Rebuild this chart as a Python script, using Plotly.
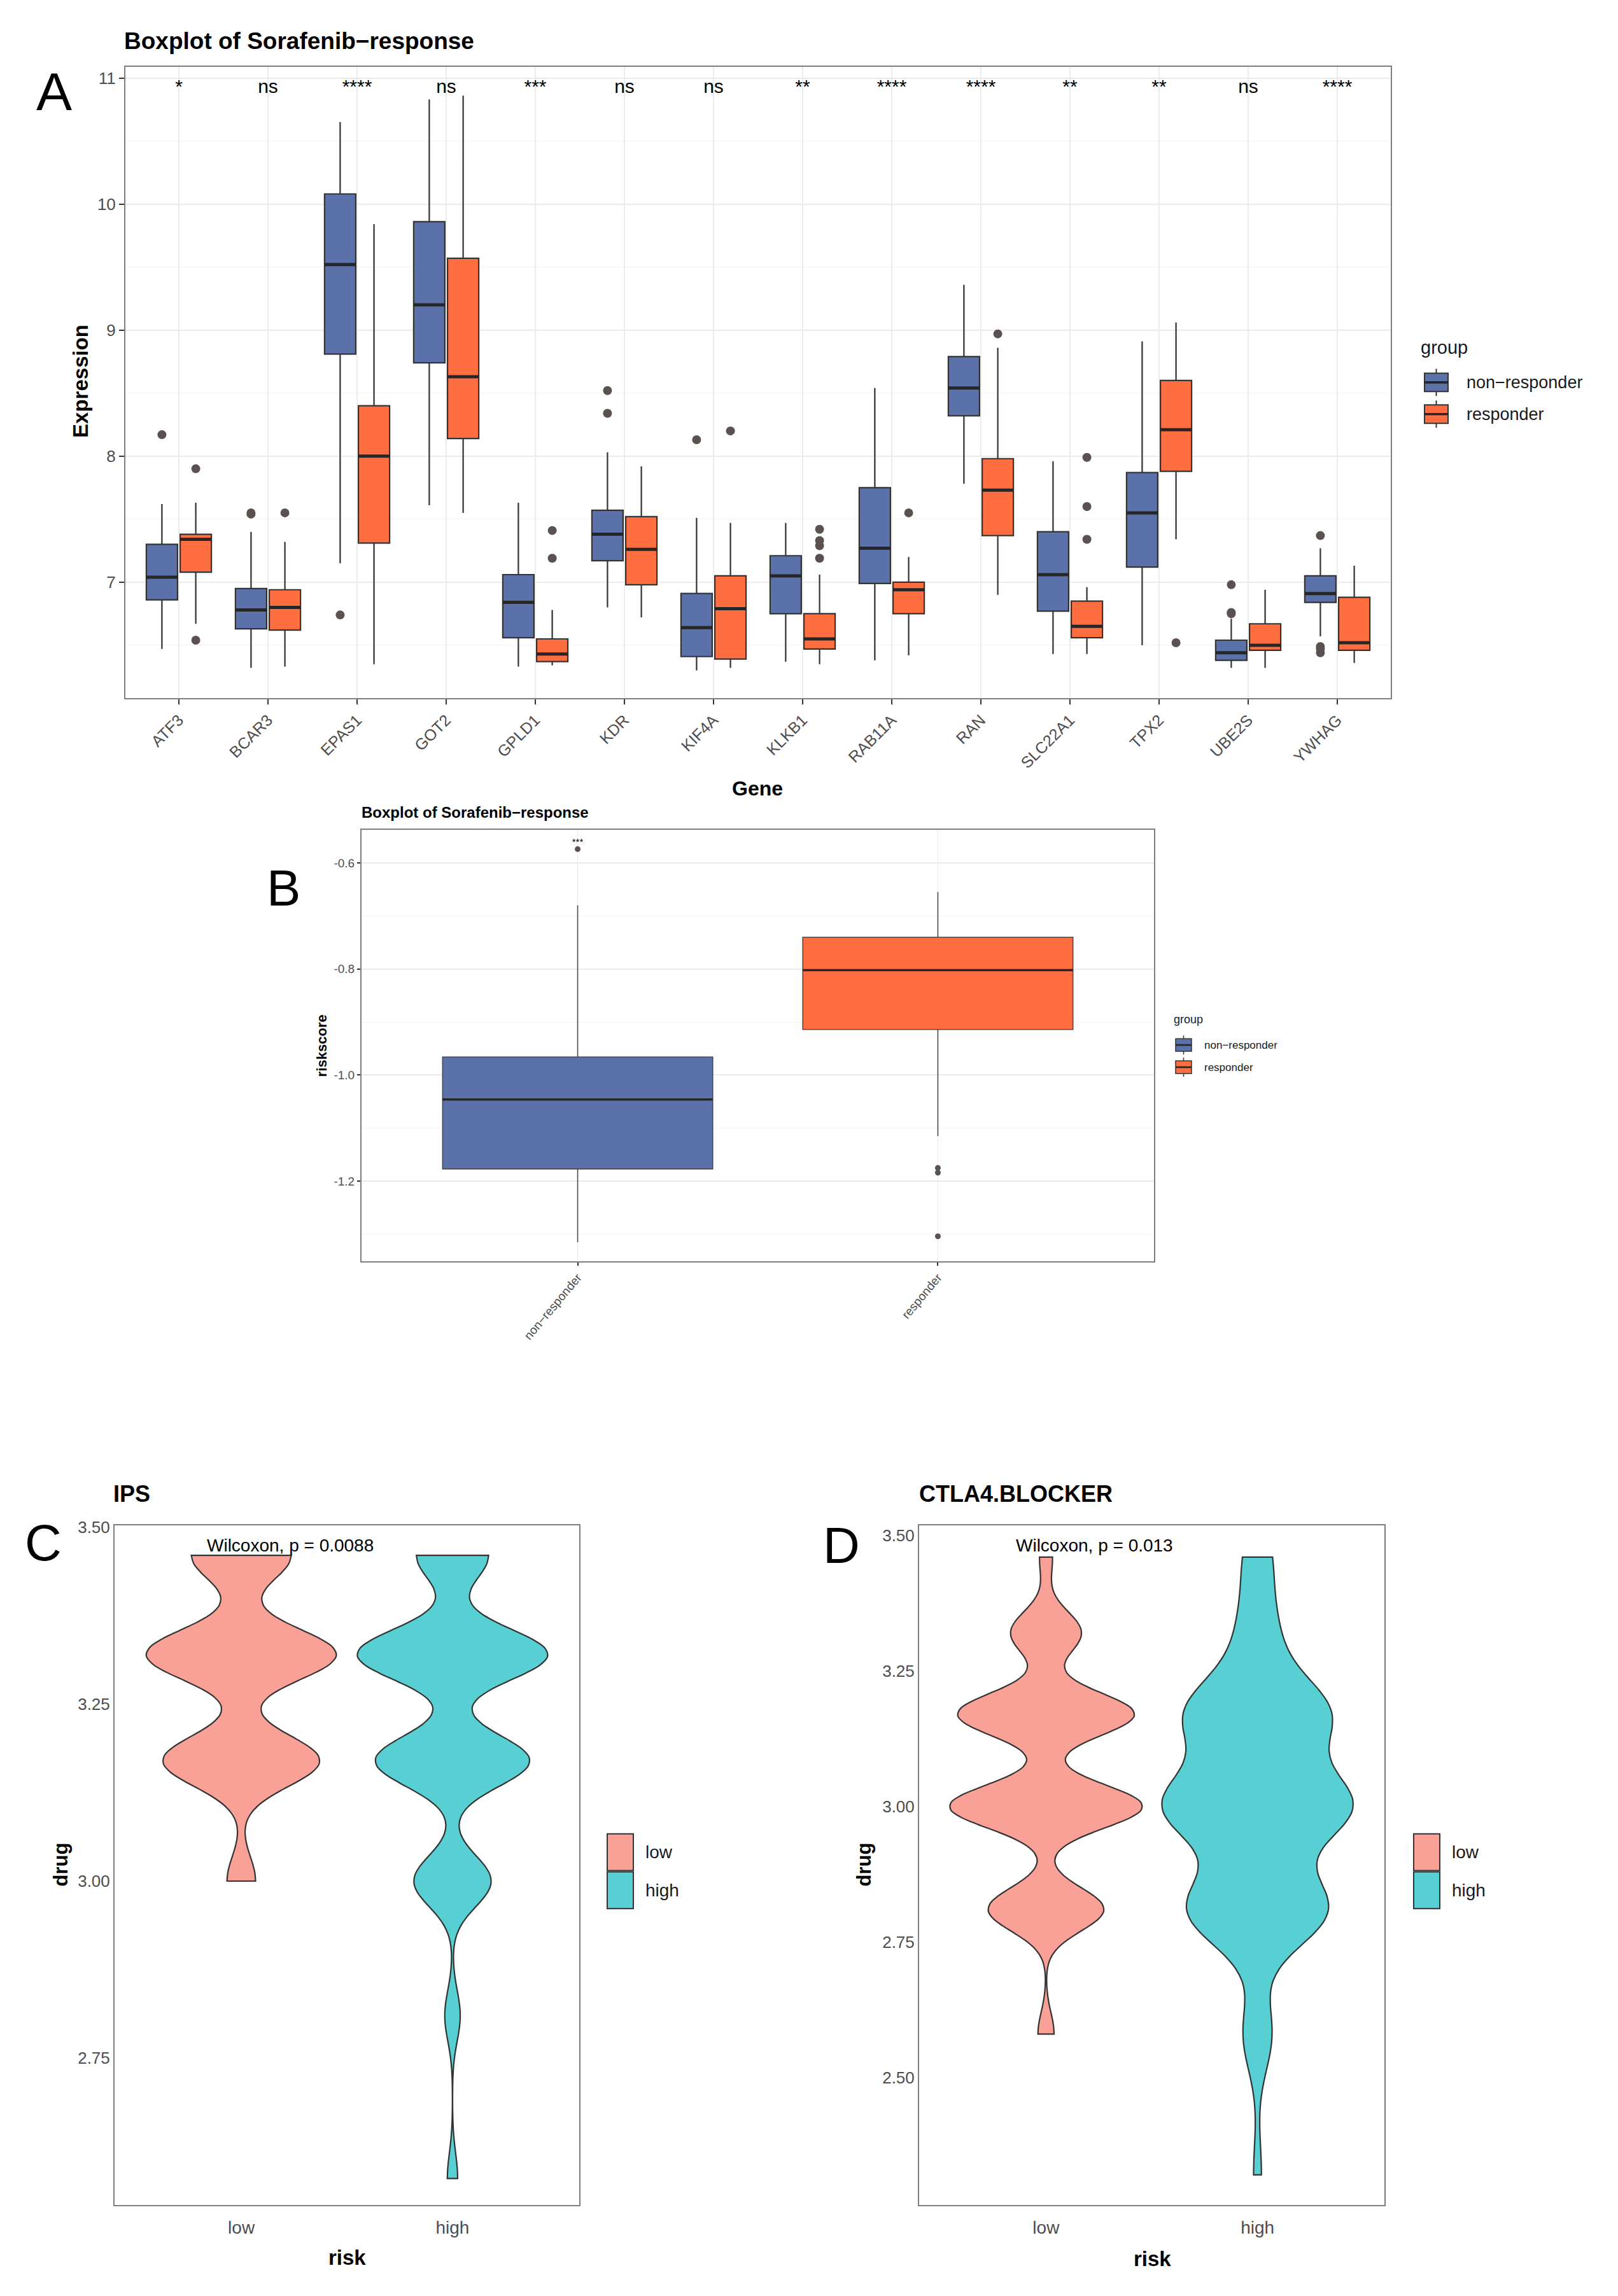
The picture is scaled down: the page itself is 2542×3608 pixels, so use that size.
import plotly.graph_objects as go

W, H = 2542, 3608
DX, DY = 8, 10  # compensate the page's default body margin


def px(x):
    return (x - DX) / W


def py(y):
    return 1 - (y - DY) / H


A_OFF, B_OFF, C_OFF = -8, -6, -4

FONT = "Liberation Sans, Arial, sans-serif"
BLUE = "#5A72A9"
ORANGE = "#FE6E41"
LINE = "#333333"
MED = "#262626"
OUTC = "#5b5151"
GRID = "#EBEBEB"
GRIDMINOR = "#F3F3F3"
BORDER = "#7f7f7f"
TICKC = "#4D4D4D"
LOWC = "#F9A197"
HIGHC = "#58CFD3"

# ---------------- Panel A data ----------------
genes = ["ATF3", "BCAR3", "EPAS1", "GOT2", "GPLD1", "KDR", "KIF4A", "KLKB1",
         "RAB11A", "RAN", "SLC22A1", "TPX2", "UBE2S", "YWHAG"]
sig_A = ["*", "ns", "****", "ns", "***", "ns", "ns", "**", "****", "****", "**", "**", "ns", "****"]
groups_A = ["non−responder", "responder"]

nr_lo  = [6.47, 6.32, 7.15, 7.61, 6.33, 6.80, 6.30, 6.37, 6.38, 7.78, 6.43, 6.50, 6.32, 6.57]
nr_q1  = [6.86, 6.63, 8.81, 8.74, 6.56, 7.17, 6.41, 6.75, 6.99, 8.32, 6.77, 7.12, 6.38, 6.84]
nr_med = [7.04, 6.78, 9.52, 9.20, 6.84, 7.38, 6.64, 7.05, 7.27, 8.54, 7.06, 7.55, 6.44, 6.91]
nr_q3  = [7.30, 6.95, 10.08, 9.86, 7.06, 7.57, 6.91, 7.21, 7.75, 8.79, 7.40, 7.87, 6.54, 7.05]
nr_hi  = [7.62, 7.40, 10.65, 10.83, 7.63, 8.03, 7.51, 7.47, 8.54, 9.36, 7.96, 8.91, 6.71, 7.27]
nr_out_gene = ["ATF3", "BCAR3", "BCAR3", "EPAS1", "KDR", "KDR", "KIF4A", "UBE2S", "UBE2S",
               "UBE2S", "YWHAG", "YWHAG", "YWHAG", "YWHAG"]
nr_out_val = [8.17, 7.55, 7.54, 6.74, 8.52, 8.34, 8.13, 6.98, 6.76, 6.75, 7.37, 6.49, 6.47, 6.44]

r_lo  = [6.67, 6.33, 6.35, 7.55, 6.34, 6.72, 6.32, 6.35, 6.42, 6.90, 6.43, 7.34, 6.32, 6.36]
r_q1  = [7.08, 6.62, 7.31, 8.14, 6.37, 6.98, 6.39, 6.47, 6.75, 7.37, 6.56, 7.88, 6.46, 6.46]
r_med = [7.34, 6.80, 8.00, 8.63, 6.43, 7.26, 6.79, 6.55, 6.94, 7.73, 6.65, 8.21, 6.50, 6.52]
r_q3  = [7.38, 6.94, 8.40, 9.57, 6.55, 7.52, 7.05, 6.75, 7.00, 7.98, 6.85, 8.60, 6.67, 6.88]
r_hi  = [7.63, 7.32, 9.84, 10.86, 6.78, 7.92, 7.47, 7.06, 7.20, 8.86, 6.96, 9.06, 6.94, 7.13]
r_out_gene = ["ATF3", "ATF3", "BCAR3", "GPLD1", "GPLD1", "KIF4A", "KLKB1", "KLKB1", "KLKB1",
              "KLKB1", "RAB11A", "RAN", "SLC22A1", "SLC22A1", "SLC22A1", "TPX2"]
r_out_val = [7.90, 6.54, 7.55, 7.41, 7.19, 8.20, 7.42, 7.33, 7.29, 7.19, 7.55, 8.97,
             7.99, 7.60, 7.34, 6.52]

# ---------------- Panel B data ----------------
b_groups = ["non−responder", "responder"]
b_lo  = [-1.315, -1.115]
b_q1  = [-1.177, -0.914]
b_med = [-1.046, -0.802]
b_q3  = [-0.966, -0.740]
b_hi  = [-0.680, -0.655]
b_out_group = ["non−responder", "responder", "responder", "responder"]
b_out_val = [-0.574, -1.175, -1.184, -1.304]
b_sig = "***"

# ---------------- Panels C / D data (value levels and counts) ----------------
risk_groups = ["low", "high"]
C_levels = [2.58, 2.81, 3.00, 3.17, 3.32, 3.46]
C_low_counts = [0, 0, 6, 33, 40, 21]
C_high_counts = [2, 3, 15, 30, 37, 14]
C_bw = [0.036, 0.036]
C_p = "Wilcoxon, p = 0.0088"

D_levels = [2.32, 2.58, 2.81, 3.00, 3.17, 3.32, 3.46]
D_low_counts = [0, 5, 36, 60, 55, 22, 4]
D_high_counts = [3, 11, 53, 70, 53, 13, 10]
D_bw = [0.040, 0.068]
D_p = "Wilcoxon, p = 0.013"


def expand(levels, counts):
    out = []
    for v, c in zip(levels, counts):
        out += [v] * c
    return out


def median_segments(pos, med, half):
    xs, ys = [], []
    for p, m in zip(pos, med):
        xs += [p - half, p + half, None]
        ys += [m, m, None]
    return xs, ys


fig = go.Figure()

# ---- Panel A ----
off, bw_a = 0.19, 0.35
nr_pos = [i - off for i in range(len(genes))]
r_pos = [i + off for i in range(len(genes))]
for pos, lo, q1, md, q3, hi, col, nm in [
        (nr_pos, nr_lo, nr_q1, nr_med, nr_q3, nr_hi, BLUE, groups_A[0]),
        (r_pos, r_lo, r_q1, r_med, r_q3, r_hi, ORANGE, groups_A[1])]:
    fig.add_trace(go.Box(x=pos, q1=q1, median=md, q3=q3, lowerfence=lo, upperfence=hi,
                         width=bw_a, orientation="v", fillcolor=col,
                         line=dict(color=LINE, width=2.2), whiskerwidth=0, boxpoints=False,
                         name=nm, showlegend=False, xaxis="x", yaxis="y", hoverinfo="skip"))
    mx, my = median_segments(pos, md, bw_a / 2)
    fig.add_trace(go.Scatter(x=mx, y=my, mode="lines", line=dict(color=MED, width=5),
                             showlegend=False, xaxis="x", yaxis="y", hoverinfo="skip"))
fig.add_trace(go.Scatter(x=[genes.index(g) - off for g in nr_out_gene], y=nr_out_val, mode="markers",
                         marker=dict(color=OUTC, size=14), showlegend=False, xaxis="x", yaxis="y"))
fig.add_trace(go.Scatter(x=[genes.index(g) + off for g in r_out_gene], y=r_out_val, mode="markers",
                         marker=dict(color=OUTC, size=14), showlegend=False, xaxis="x", yaxis="y"))
fig.add_trace(go.Scatter(x=list(range(len(genes))), y=[10.92] * len(genes), mode="text", text=sig_A,
                         textposition="middle center", textfont=dict(size=30, color="black", family=FONT),
                         showlegend=False, cliponaxis=False, xaxis="x", yaxis="y"))

# ---- Panel B ----
b_pos = list(range(len(b_groups)))
bw_b = 0.75
for i, col in enumerate([BLUE, ORANGE]):
    fig.add_trace(go.Box(x=[b_pos[i]], q1=[b_q1[i]], median=[b_med[i]], q3=[b_q3[i]], lowerfence=[b_lo[i]],
                         upperfence=[b_hi[i]], width=bw_b, orientation="v", fillcolor=col,
                         line=dict(color="#4a4a4a", width=1.6), whiskerwidth=0, boxpoints=False,
                         name=b_groups[i], showlegend=False, xaxis="x2", yaxis="y2", hoverinfo="skip"))
mx, my = median_segments(b_pos, b_med, bw_b / 2)
fig.add_trace(go.Scatter(x=mx, y=my, mode="lines", line=dict(color=MED, width=3.5),
                         showlegend=False, xaxis="x2", yaxis="y2", hoverinfo="skip"))
fig.add_trace(go.Scatter(x=[b_groups.index(g) for g in b_out_group], y=b_out_val, mode="markers",
                         marker=dict(color=OUTC, size=9), showlegend=False, xaxis="x2", yaxis="y2"))
fig.add_trace(go.Scatter(x=[0], y=[-0.562], mode="text", text=[b_sig],
                         textfont=dict(size=15, color="black", family=FONT), showlegend=False,
                         cliponaxis=False, xaxis="x2", yaxis="y2"))

# ---- Panels C and D ----
for (levels, lowc, highc, bws, ax, sg) in [
        (C_levels, C_low_counts, C_high_counts, C_bw, "3", "C"),
        (D_levels, D_low_counts, D_high_counts, D_bw, "4", "D")]:
    for g, counts, col, bw in zip(risk_groups, [lowc, highc], [LOWC, HIGHC], bws):
        vals = expand(levels, counts)
        fig.add_trace(go.Violin(x=[g] * len(vals), y=vals, name=g, showlegend=False,
                                fillcolor=col, opacity=1, line=dict(color=LINE, width=2.2),
                                points=False, box_visible=False, meanline_visible=False,
                                spanmode="hard", bandwidth=bw, scalegroup=sg, scalemode="width",
                                width=0.9, xaxis="x" + ax, yaxis="y" + ax, hoverinfo="skip"))


# ---------------- Layout ----------------
def frame(**kw):
    d = dict(showline=True, mirror=True, linecolor=BORDER, linewidth=2, zeroline=False,
             tickfont=dict(family=FONT, color=TICKC))
    d.update(kw)
    return d


layout = dict(
    width=W, height=H, margin=dict(l=0, r=0, t=0, b=0), showlegend=False,
    paper_bgcolor="white", plot_bgcolor="white", font=dict(family=FONT, color="black"),
    xaxis=frame(domain=[px(197), px(2185)], anchor="y", range=[-0.6, len(genes) - 0.4],
                tickvals=list(range(len(genes))), ticktext=genes, tickangle=-45,
                tickfont=dict(family=FONT, color=TICKC, size=25),
                ticks="outside", ticklen=8, tickwidth=2, tickcolor=LINE,
                showgrid=True, gridcolor=GRID, gridwidth=2),
    yaxis=frame(domain=[py(1098 + A_OFF), py(102 + A_OFF)], anchor="x", range=[6.08, 11.09],
                tickvals=[7, 8, 9, 10, 11], tickfont=dict(family=FONT, color=TICKC, size=26),
                ticks="outside", ticklen=8, tickwidth=2, tickcolor=LINE,
                showgrid=True, gridcolor=GRID, gridwidth=2,
                minor=dict(tickvals=[6.5, 7.5, 8.5, 9.5, 10.5], showgrid=True, gridcolor=GRIDMINOR, gridwidth=1)),
    xaxis2=frame(domain=[px(568), px(1813)], anchor="y2", range=[-0.6, len(b_groups) - 0.4],
                 tickvals=b_pos, ticktext=b_groups,
                 tickangle=-50, tickfont=dict(family=FONT, color=TICKC, size=19),
                 ticks="outside", ticklen=5, tickwidth=1.5, tickcolor=LINE,
                 showgrid=True, gridcolor=GRID, gridwidth=1),
    yaxis2=frame(domain=[py(1984 + B_OFF), py(1304 + B_OFF)], anchor="x2", range=[-1.351, -0.538],
                 tickvals=[-1.2, -1.0, -0.8, -0.6], ticktext=["-1.2", "-1.0", "-0.8", "-0.6"],
                 tickfont=dict(family=FONT, color=TICKC, size=19),
                 ticks="outside", ticklen=5, tickwidth=1.5, tickcolor=LINE,
                 showgrid=True, gridcolor=GRID, gridwidth=2,
                 minor=dict(tickvals=[-1.3, -1.1, -0.9, -0.7], showgrid=True, gridcolor=GRIDMINOR, gridwidth=1)),
    xaxis3=frame(domain=[px(180), px(910)], anchor="y3", type="category", range=[-0.6, 1.6],
                 categoryorder="array", categoryarray=risk_groups, ticklabelstandoff=10,
                 tickfont=dict(family=FONT, color=TICKC, size=28), showgrid=False),
    yaxis3=frame(domain=[py(3466), py(2395)], anchor="x3", range=[2.543, 3.502],
                 tickvals=[2.75, 3.0, 3.25, 3.5], tickformat=".2f",
                 tickfont=dict(family=FONT, color=TICKC, size=26), showgrid=False),
    xaxis4=frame(domain=[px(1444), px(2175)], anchor="y4", type="category", range=[-0.6, 1.6],
                 categoryorder="array", categoryarray=risk_groups, ticklabelstandoff=10,
                 tickfont=dict(family=FONT, color=TICKC, size=28), showgrid=False),
    yaxis4=frame(domain=[py(3466), py(2395)], anchor="x4", range=[2.265, 3.518],
                 tickvals=[2.5, 2.75, 3.0, 3.25, 3.5], tickformat=".2f",
                 tickfont=dict(family=FONT, color=TICKC, size=26), showgrid=False),
    violinmode="overlay", boxmode="overlay",
)


def ann(text, x, y, size, bold=False, angle=0, xanchor="center", color="black"):
    return dict(text=("<b>%s</b>" % text) if bold else text, x=px(x), y=py(y), xref="paper", yref="paper",
                showarrow=False, textangle=angle, xanchor=xanchor, yanchor="middle",
                font=dict(size=size, family=FONT, color=color))


annotations = [
    ann("Boxplot of Sorafenib−response", 193, 62 + A_OFF, 37, bold=True, xanchor="left"),
    ann("Gene", 1190, 1240 + A_OFF, 32, bold=True),
    ann("Expression", 127, 598 + A_OFF, 33, bold=True, angle=-90),
    ann("A", 85, 141 + A_OFF, 84),
    ann("Boxplot of Sorafenib−response", 566, 1276 + B_OFF, 24, bold=True, xanchor="left"),
    ann("riskscore", 505, 1644 + B_OFF, 22, bold=True, angle=-90),
    ann("B", 445, 1395 + B_OFF, 80),
    ann("IPS", 176, 2345, 36, bold=True, xanchor="left"),
    ann("C", 68, 2426 + C_OFF, 80),
    ann("drug", 95, 2930, 31, bold=True, angle=-90),
    ann("risk", 545, 3549, 33, bold=True),
    ann(C_p, 323, 2430 + C_OFF, 28, xanchor="left"),
    ann("CTLA4.BLOCKER", 1442, 2345, 36, bold=True, xanchor="left"),
    ann("D", 1322, 2430 + C_OFF, 80),
    ann("drug", 1357, 2930, 31, bold=True, angle=-90),
    ann("risk", 1810, 3551, 33, bold=True),
    ann(D_p, 1594, 2430 + C_OFF, 28, xanchor="left"),
]

shapes = []


def rect(x0, y0, x1, y1, fill, lc=LINE, lw=2):
    shapes.append(dict(type="rect", xref="paper", yref="paper", x0=px(x0), x1=px(x1),
                       y0=py(y1), y1=py(y0), fillcolor=fill, line=dict(color=lc, width=lw)))


def seg(x0, y0, x1, y1, lc=LINE, lw=2):
    shapes.append(dict(type="line", xref="paper", yref="paper", x0=px(x0), x1=px(x1),
                       y0=py(y0), y1=py(y1), line=dict(color=lc, width=lw)))


def box_legend(title, labels, colors, title_xy, key_x, centers, key_h, whisk, text_x, tsize, fsize, lw):
    annotations.append(ann(title, title_xy[0], title_xy[1], tsize, xanchor="left", color="#1a1a1a"))
    kx0, kx1 = key_x
    xm = (kx0 + kx1) / 2
    for lab, col, cy in zip(labels, colors, centers):
        seg(xm, cy - key_h / 2 - whisk, xm, cy + key_h / 2 + whisk, lw=lw)
        rect(kx0, cy - key_h / 2, kx1, cy + key_h / 2, col, lw=lw)
        seg(kx0, cy, kx1, cy, lc=MED, lw=lw * 1.8)
        annotations.append(ann(lab, text_x, cy, fsize, xanchor="left", color="#1a1a1a"))


box_legend("group", groups_A, [BLUE, ORANGE], (2230, 545 + A_OFF), (2238, 2275),
           [600 + A_OFF, 650 + A_OFF], 29, 7, 2302, 29, 27, 2)
box_legend("group", b_groups, [BLUE, ORANGE], (1842, 1603 + B_OFF), (1847, 1872),
           [1643 + B_OFF, 1678 + B_OFF], 20, 5, 1890, 18, 17, 1.5)


def violin_legend(labels, colors, key_x, tops, key_h, text_x, fsize):
    for lab, col, t in zip(labels, colors, tops):
        rect(key_x[0], t, key_x[1], t + key_h, col, lw=2)
        annotations.append(ann(lab, text_x, t + key_h / 2, fsize, xanchor="left", color="#1a1a1a"))


violin_legend(risk_groups, [LOWC, HIGHC], (954, 995), [2881, 2941], 58, 1012, 28)
violin_legend(risk_groups, [LOWC, HIGHC], (2221, 2262), [2881, 2941], 58, 2279, 28)

layout["annotations"] = annotations
layout["shapes"] = shapes

fig.update_layout(**layout)
fig.write_html("out.html")
